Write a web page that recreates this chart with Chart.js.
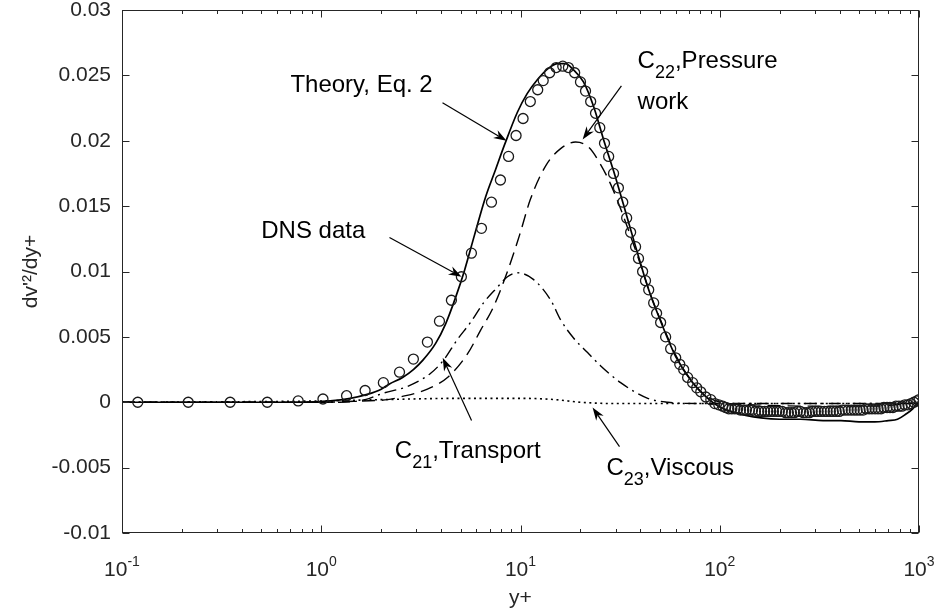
<!DOCTYPE html>
<html>
<head>
<meta charset="utf-8">
<script src="https://cdn.jsdelivr.net/npm/chart.js@4.4.1/dist/chart.umd.min.js"></script>
<style>
  html, body { margin: 0; padding: 0; background: #ffffff; }
  #wrap { width: 936px; height: 613px; }
</style>
</head>
<body>
<div id="wrap"><canvas id="c" width="936" height="613"></canvas></div>
<script>
// DNS budget data: y+ locations and dv'^2/dy+ values
const dnsYplus = [
  0.12, 0.215, 0.349, 0.536, 0.766, 1.02, 1.34, 1.66, 2.05, 2.47,
  2.90, 3.41, 3.92, 4.50, 5.05, 5.67, 6.37, 7.15, 7.93, 8.71,
  9.5, 10.3, 11.2, 12.2, 13.0, 14.0, 15.1, 16.3, 17.4, 18.7,
  20.0, 21.2, 22.5, 23.8, 25.0, 26.4, 27.7, 29.3, 31.0, 32.6,
  34.1, 35.7, 37.8, 39.1, 41.0, 42.4, 44.0, 46.6, 48.2, 50.5,
  53.5, 56.7, 60.1, 63.0, 65.9, 69.0, 73.1, 76.6, 80.3, 85.1,
  90.2, 94.5, 98.9,
  103.5, 107, 111, 115, 119, 123, 127, 132, 136, 141,
  146, 151, 157, 162, 168, 174, 180, 186, 193, 199,
  206, 214, 221, 229, 237, 245, 254, 263, 272, 282,
  291, 302, 312, 323, 335, 346, 359, 371, 384, 398,
  412, 426, 441, 457, 473, 489, 506, 524, 543, 562,
  581, 602, 623, 645, 667, 691, 715, 740, 766, 793,
  821, 850, 880, 911, 943, 976, 1000
];
const dnsValue = [
  0, 0, 0, 0, 0.0001, 0.00025, 0.0005, 0.0009, 0.0015, 0.0023,
  0.0033, 0.0046, 0.0062, 0.0078, 0.0096, 0.0114, 0.0133, 0.0153, 0.0170, 0.0188,
  0.0204, 0.0217, 0.0230, 0.0239, 0.0246, 0.0252, 0.0256, 0.0257, 0.0256, 0.0252,
  0.0245, 0.0238, 0.0230, 0.0221, 0.0210, 0.0198, 0.0188, 0.0175, 0.0164, 0.0153,
  0.0141, 0.0130, 0.0119, 0.0110, 0.0100, 0.0093, 0.0086, 0.0076, 0.0068, 0.0061,
  0.0050, 0.0041, 0.0034, 0.0029, 0.0025, 0.0019, 0.0015, 0.0011, 0.0008, 0.0004,
  0.0002, -0.0001, -0.0002,
  -0.0003, -0.0004, -0.0005, -0.0005, -0.0005, -0.0005, -0.0006, -0.0006, -0.0006, -0.0006,
  -0.0006, -0.0007, -0.0007, -0.0007, -0.0007, -0.0007, -0.0007, -0.0007, -0.0007, -0.0007,
  -0.0007, -0.0008, -0.0008, -0.0008, -0.0008, -0.0007, -0.0007, -0.0008, -0.0008, -0.0008,
  -0.0007, -0.0007, -0.0007, -0.0007, -0.0007, -0.0007, -0.0007, -0.0007, -0.0007, -0.0007,
  -0.0006, -0.0006, -0.0006, -0.0006, -0.0006, -0.0006, -0.0006, -0.0006, -0.0005, -0.0005,
  -0.0005, -0.0005, -0.0005, -0.0005, -0.0004, -0.0004, -0.0004, -0.0004, -0.0003, -0.0003,
  -0.0003, -0.0002, -0.0002, -0.0001, 0, 0.0001, 0.0002
];

// Theory, Eq. 2
const theoryYplus = [
  0.1, 0.3, 0.55, 0.78, 1.11, 1.40, 1.70, 2.0, 2.20, 2.56,
  2.90, 3.23, 3.75, 4.21, 4.72, 5.24, 5.88, 6.68, 7.50, 8.32,
  9.66, 10.8, 12.2, 13.7, 15.4, 16.8, 18.5, 20.7, 23.3, 26.1,
  29.3, 32.9, 37.0, 44.0, 50.5, 60.1, 73.1, 90.2, 101, 114,
  135, 161, 200, 255, 330, 406, 500, 600, 700, 780,
  860, 930, 1000
];
const theoryValue = [
  0, 0, 0, 0, 0.0001, 0.0003, 0.0006, 0.0010, 0.0014, 0.0019,
  0.0025, 0.0032, 0.0045, 0.0060, 0.0080, 0.0101, 0.0128, 0.0157, 0.0178, 0.0197,
  0.0222, 0.0236, 0.0247, 0.0255, 0.0259, 0.0259, 0.0254, 0.0245, 0.0226, 0.0201,
  0.0177, 0.0151, 0.0124, 0.0086, 0.0062, 0.0035, 0.0015, 0.0001, -0.0004, -0.0007,
  -0.0010, -0.0012, -0.0013, -0.0013, -0.0014, -0.0014, -0.0015, -0.0015, -0.0014, -0.0013,
  -0.0009, -0.0005, 0.0001
];

// C21, transport term
const c21Yplus = [
  0.1, 1.24, 1.66, 2.05, 2.70, 3.53, 4.10, 4.82, 5.61, 6.52,
  7.66, 8.60, 9.66, 11.6, 14.2, 15.9, 18.5, 21.7, 25.2, 31.8,
  43.5, 54.8, 80.3, 1000
];
const c21Value = [
  0, 0, 0.0002, 0.0007, 0.0012, 0.0022, 0.0032, 0.0048, 0.0061, 0.0076,
  0.0088, 0.0096, 0.0099, 0.0094, 0.0078, 0.0063, 0.0049, 0.0038, 0.0028, 0.0015,
  0.0003, 0, -0.0001, -0.0001
];

// C22, pressure work term
const c22Yplus = [
  0.1, 1.0, 1.6, 2.15, 2.49, 3.41, 4.30, 5.42, 6.30, 7.32,
  8.60, 9.9, 11.2, 13.4, 15.9, 18.9, 22.0, 25.2, 28.3, 31.8,
  35.7, 40.1, 45.0, 51.7, 60.1, 71.5, 85.1, 101, 150, 300,
  600, 1000
];
const c22Value = [
  0, 0, 0.0001, 0.0002, 0.0004, 0.0010, 0.0019, 0.0037, 0.0055, 0.0073,
  0.0100, 0.0128, 0.0155, 0.0181, 0.0194, 0.0199, 0.0195, 0.0182, 0.0167, 0.0148,
  0.0127, 0.0105, 0.0082, 0.0059, 0.0036, 0.0017, 0.0005, 0, -0.0002, -0.0003,
  -0.0003, 0
];

// C23, viscous term
const c23Yplus = [0.1, 1.0, 2.0, 5.0, 10, 15, 20, 30, 100, 1000];
const c23Value = [0, 0.0001, 0.0002, 0.0003, 0.0003, 0.0002, 0, -0.0001, -0.0001, -0.0001];

// Axis tick labels
const yTickLabels = ['-0.01', '-0.005', '0', '0.005', '0.01', '0.015', '0.02', '0.025', '0.03'];
const xTickExponents = ['-1', '0', '1', '2', '3'];

// Callout labels: text runs, text anchor and arrow (tail -> head) in data units
const callouts = [
  { lines: [[{ t: 'Theory, Eq. 2' }]], at: [0.70, 0.0237], from: [4.06, 0.0229], to: [8.51, 0.0200] },
  { lines: [[{ t: 'DNS data' }]], at: [0.50, 0.0126], from: [2.20, 0.0126], to: [5.06, 0.0096] },
  { lines: [[{ t: 'C' }, { t: '22', sub: true }, { t: ',Pressure' }], [{ t: 'work' }]],
    at: [38.7, 0.0256], from: [32.1, 0.0242], to: [20.5, 0.0201] },
  { lines: [[{ t: 'C' }, { t: '21', sub: true }, { t: ',Transport' }]],
    at: [2.34, -0.0043], from: [5.68, -0.0014], to: [4.07, 0.0034] },
  { lines: [[{ t: 'C' }, { t: '23', sub: true }, { t: ',Viscous' }]],
    at: [27.0, -0.0056], from: [31.4, -0.0034], to: [23.0, -0.0004] }
];

const FONT = "'Liberation Sans', Arial, Helvetica, sans-serif";
const AXIS_COLOR = '#262626';

function points(xs, ys) {
  return xs.map((x, i) => ({ x: x, y: ys[i] }));
}

function drawArrow(ctx, x0, y0, x1, y1) {
  const dx = x1 - x0, dy = y1 - y0;
  const len = Math.hypot(dx, dy);
  const ux = dx / len, uy = dy / len;
  const nx = -uy, ny = ux;
  const L = 13, W = 4.5, notch = 9;
  ctx.beginPath();
  ctx.moveTo(x0, y0);
  ctx.lineTo(x1 - ux * notch, y1 - uy * notch);
  ctx.stroke();
  ctx.beginPath();
  ctx.moveTo(x1, y1);
  ctx.lineTo(x1 - ux * L + nx * W, y1 - uy * L + ny * W);
  ctx.lineTo(x1 - ux * notch, y1 - uy * notch);
  ctx.lineTo(x1 - ux * L - nx * W, y1 - uy * L - ny * W);
  ctx.closePath();
  ctx.fill();
}

function drawRuns(ctx, x, y, runs) {
  let cx = x;
  for (const r of runs) {
    const size = r.sub ? 18 : 24;
    ctx.font = size + 'px ' + FONT;
    ctx.fillText(r.t, cx, y + (r.sub ? 10 : 0));
    cx += ctx.measureText(r.t).width;
  }
}

const frame = {
  id: 'frame',
  afterDatasetsDraw(chart) {
    const { ctx, scales: { x: xs, y: ys } } = chart;
    ctx.save();
    ctx.strokeStyle = '#000';
    ctx.fillStyle = '#000';
    ctx.lineWidth = 1.2;
    ctx.textAlign = 'left';
    ctx.textBaseline = 'alphabetic';
    for (const c of callouts) {
      drawArrow(ctx,
        xs.getPixelForValue(c.from[0]), ys.getPixelForValue(c.from[1]),
        xs.getPixelForValue(c.to[0]), ys.getPixelForValue(c.to[1]));
      const tx = xs.getPixelForValue(c.at[0]);
      const ty = ys.getPixelForValue(c.at[1]);
      c.lines.forEach((runs, i) => drawRuns(ctx, tx, ty + i * 41, runs));
    }
    ctx.restore();
  },
  afterDraw(chart) {
    const { ctx, chartArea: a, scales: { x: xs, y: ys } } = chart;
    const L = Math.round(a.left) + 0.5, R = Math.round(a.right) - 0.5;
    const T = Math.round(a.top) + 0.5, B = Math.round(a.bottom) - 0.5;
    ctx.save();
    ctx.strokeStyle = AXIS_COLOR;
    ctx.lineWidth = 1;
    ctx.strokeRect(L, T, R - L, B - T);

    // y ticks, left and right, pointing inward
    ctx.beginPath();
    for (const t of ys.ticks) {
      const py = Math.round(ys.getPixelForValue(t.value)) + 0.5;
      ctx.moveTo(L, py); ctx.lineTo(L + 7, py);
      ctx.moveTo(R, py); ctx.lineTo(R - 7, py);
    }
    // x ticks on a log axis: decades plus minor ticks
    for (let d = -1; d <= 3; d++) {
      const px = Math.round(xs.getPixelForValue(Math.pow(10, d))) + 0.5;
      ctx.moveTo(px, B); ctx.lineTo(px, B - 7);
      ctx.moveTo(px, T); ctx.lineTo(px, T + 7);
      if (d < 3) {
        for (let k = 2; k <= 9; k++) {
          const mx = Math.round(xs.getPixelForValue(k * Math.pow(10, d))) + 0.5;
          ctx.moveTo(mx, B); ctx.lineTo(mx, B - 3.5);
          ctx.moveTo(mx, T); ctx.lineTo(mx, T + 3.5);
        }
      }
    }
    ctx.stroke();

    // x tick labels written as powers of ten
    ctx.fillStyle = AXIS_COLOR;
    ctx.textBaseline = 'alphabetic';
    ctx.textAlign = 'left';
    const base = a.bottom + 43;
    for (const e of xTickExponents) {
      const px = xs.getPixelForValue(Math.pow(10, Number(e)));
      ctx.font = '21px ' + FONT;
      const wb = ctx.measureText('10').width;
      ctx.font = '14px ' + FONT;
      const we = ctx.measureText(e).width;
      const x0 = px - (wb + we) / 2;
      ctx.font = '21px ' + FONT;
      ctx.fillText('10', x0, base);
      ctx.font = '14px ' + FONT;
      ctx.fillText(e, x0 + wb, base - 10);
    }
    ctx.restore();
  }
};

new Chart(document.getElementById('c'), {
  type: 'line',
  data: {
    datasets: [
      {
        label: 'DNS data',
        data: points(dnsYplus, dnsValue),
        showLine: false,
        pointStyle: 'circle',
        pointRadius: 5,
        pointBorderWidth: 1.3,
        pointBorderColor: '#1a1a1a',
        pointBackgroundColor: 'rgba(0,0,0,0)',
        borderColor: '#1a1a1a',
        backgroundColor: 'rgba(0,0,0,0)'
      },
      {
        label: 'Theory, Eq. 2',
        data: points(theoryYplus, theoryValue),
        borderColor: '#000',
        borderWidth: 1.7,
        pointRadius: 0,
        cubicInterpolationMode: 'monotone'
      },
      {
        label: 'C21, Transport',
        data: points(c21Yplus, c21Value),
        borderColor: '#000',
        borderWidth: 1.4,
        borderDash: [12, 5, 2, 5],
        pointRadius: 0,
        cubicInterpolationMode: 'monotone'
      },
      {
        label: 'C22, Pressure work',
        data: points(c22Yplus, c22Value),
        borderColor: '#000',
        borderWidth: 1.4,
        borderDash: [13, 7],
        pointRadius: 0,
        cubicInterpolationMode: 'monotone'
      },
      {
        label: 'C23, Viscous',
        data: points(c23Yplus, c23Value),
        borderColor: '#000',
        borderWidth: 1.6,
        borderDash: [2, 3.5],
        pointRadius: 0,
        cubicInterpolationMode: 'monotone'
      }
    ]
  },
  options: {
    responsive: false,
    animation: false,
    devicePixelRatio: 1,
    layout: { padding: { left: 0, top: 10, right: 17, bottom: 0 } },
    plugins: { legend: { display: false }, tooltip: { enabled: false } },
    scales: {
      x: {
        type: 'logarithmic',
        min: 0.1,
        max: 1000,
        grid: { display: false, drawTicks: false },
        border: { display: false },
        ticks: { display: false },
        title: {
          display: true,
          text: 'y+',
          color: AXIS_COLOR,
          font: { family: FONT, size: 21 },
          padding: { top: 0, bottom: 2 }
        },
        afterFit(s) { s.height = 80; s.paddingLeft = 0; s.paddingRight = 0; }
      },
      y: {
        type: 'linear',
        min: -0.01,
        max: 0.03,
        grid: { display: false, drawTicks: false },
        border: { display: false },
        ticks: {
          stepSize: 0.005,
          color: AXIS_COLOR,
          padding: 11,
          font: { family: FONT, size: 21 },
          callback: (v, i) => yTickLabels[i]
        },
        title: {
          display: true,
          text: "dv'\u00b2/dy+",
          color: AXIS_COLOR,
          font: { family: FONT, size: 21 },
          padding: { top: 19, bottom: 0 }
        },
        afterFit(s) { s.width = 122; s.paddingTop = 0; s.paddingBottom = 0; }
      }
    }
  },
  plugins: [frame]
});
</script>
</body>
</html>
